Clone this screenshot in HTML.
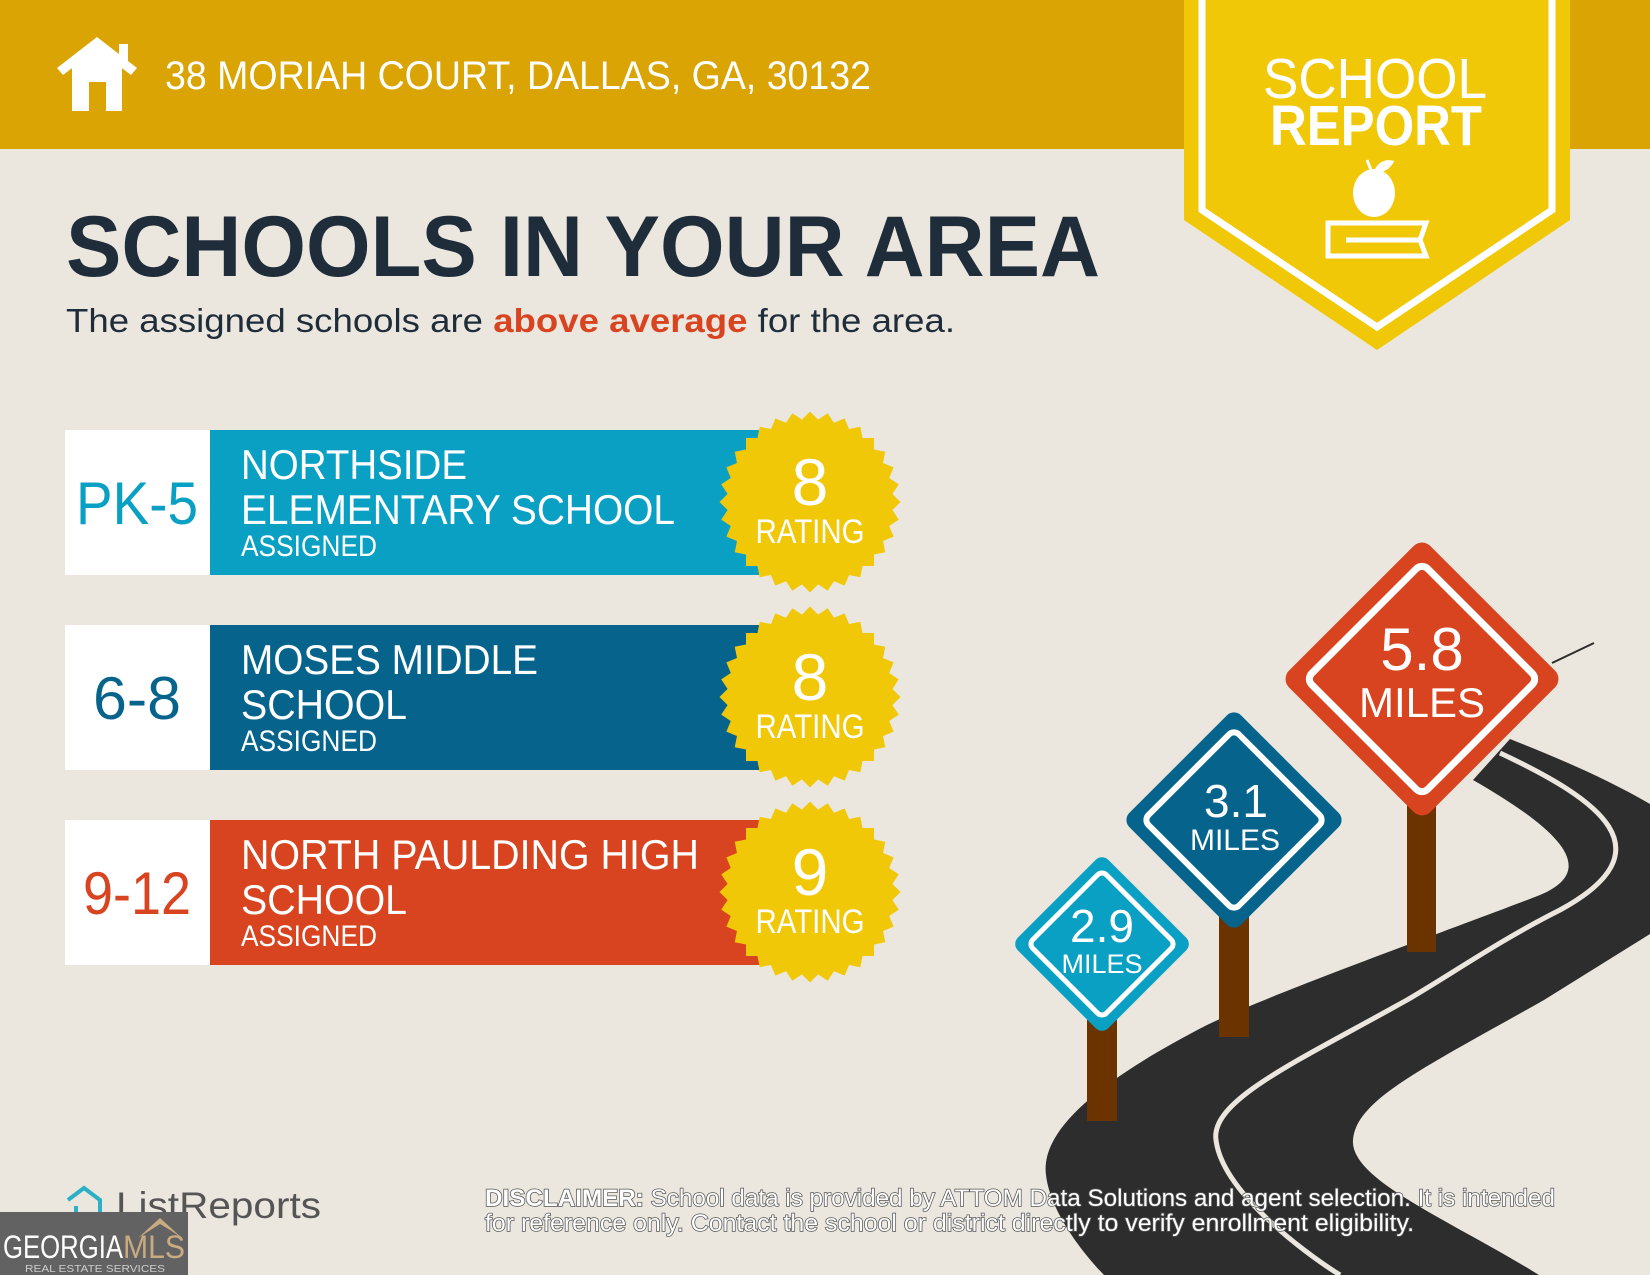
<!DOCTYPE html>
<html><head><meta charset="utf-8"><style>
html,body{margin:0;padding:0;background:#ebe7df;}
svg{display:block;}
text{font-family:"Liberation Sans",sans-serif;}
</style></head><body>
<svg width="1650" height="1275" viewBox="0 0 1650 1275" xmlns="http://www.w3.org/2000/svg">
<defs>
<g id="seal">
<rect x="-64" y="-64" width="128" height="128" transform="rotate(0)"/>
<rect x="-64" y="-64" width="128" height="128" transform="rotate(11.25)"/>
<rect x="-64" y="-64" width="128" height="128" transform="rotate(22.5)"/>
<rect x="-64" y="-64" width="128" height="128" transform="rotate(33.75)"/>
<rect x="-64" y="-64" width="128" height="128" transform="rotate(45)"/>
<rect x="-64" y="-64" width="128" height="128" transform="rotate(56.25)"/>
<rect x="-64" y="-64" width="128" height="128" transform="rotate(67.5)"/>
<rect x="-64" y="-64" width="128" height="128" transform="rotate(78.75)"/>
</g>
</defs>
<rect width="1650" height="1275" fill="#ebe7df"/>
<!-- header -->
<rect x="0" y="0" width="1650" height="149" fill="#d9a404"/>
<!-- house -->
<g fill="#fff">
<polygon points="97,37 137,68 131,75 97,49 63,75 57,68"/>
<rect x="119" y="44" width="9" height="18"/>
<path d="M72,62 L97,43 L122,62 L122,111 L106,111 L106,82 L89,82 L89,111 L72,111 Z"/>
</g>
<text x="165" y="89" font-size="40" fill="#fff" textLength="706" lengthAdjust="spacingAndGlyphs">38 MORIAH COURT, DALLAS, GA, 30132</text>
<!-- badge -->
<polygon points="1184,0 1570,0 1570,220 1377,350 1184,220" fill="#f0c808"/>
<polyline points="1202,0 1202,210 1377,327 1552,210 1552,0" fill="none" stroke="#fff" stroke-width="7"/>
<text x="1375" y="98" font-size="57" fill="#fff" text-anchor="middle" textLength="224" lengthAdjust="spacingAndGlyphs">SCHOOL</text>
<text x="1376" y="145" font-size="57" font-weight="bold" fill="#fff" text-anchor="middle" textLength="212" lengthAdjust="spacingAndGlyphs">REPORT</text>
<ellipse cx="1374" cy="193" rx="21" ry="24" fill="#fff"/>
<path d="M1371,170 L1367,160 M1376,170 Q1382,160 1392,162 Q1386,172 1376,170Z" stroke="#fff" stroke-width="3" fill="#fff"/>
<path d="M1328,223 L1426,223 L1420,240 L1426,256 L1328,256 Z" fill="none" stroke="#fff" stroke-width="5"/>
<line x1="1346" y1="240" x2="1418" y2="240" stroke="#fff" stroke-width="5"/>
<!-- title -->
<text x="66" y="276" font-size="86" font-weight="bold" fill="#1f2d3a" textLength="1034" lengthAdjust="spacingAndGlyphs">SCHOOLS IN YOUR AREA</text>
<text x="66" y="332" font-size="33" fill="#1f2d3a" textLength="889" lengthAdjust="spacingAndGlyphs">The assigned schools are <tspan fill="#d84420" font-weight="bold">above average</tspan> for the area.</text>
<!-- row 1 -->
<rect x="65" y="430" width="145" height="145" fill="#fff"/>
<rect x="210" y="430" width="560" height="145" fill="#0aa0c4"/>
<text x="137" y="524" font-size="60" fill="#0aa0c4" text-anchor="middle" textLength="122" lengthAdjust="spacingAndGlyphs">PK-5</text>
<text x="241" y="479" font-size="42" fill="#fff" textLength="226" lengthAdjust="spacingAndGlyphs">NORTHSIDE</text>
<text x="241" y="524" font-size="42" fill="#fff" textLength="434" lengthAdjust="spacingAndGlyphs">ELEMENTARY SCHOOL</text>
<text x="241" y="556" font-size="30" fill="#fff" textLength="136" lengthAdjust="spacingAndGlyphs">ASSIGNED</text>
<use href="#seal" transform="translate(810,502)" fill="#f0c808"/>
<text x="810" y="505" font-size="66" fill="#fff" text-anchor="middle">8</text>
<text x="810" y="543" font-size="34" fill="#fff" text-anchor="middle" textLength="109" lengthAdjust="spacingAndGlyphs">RATING</text>
<!-- row 2 -->
<rect x="65" y="625" width="145" height="145" fill="#fff"/>
<rect x="210" y="625" width="560" height="145" fill="#05638c"/>
<text x="137" y="719" font-size="60" fill="#05638c" text-anchor="middle" textLength="88" lengthAdjust="spacingAndGlyphs">6-8</text>
<text x="241" y="674" font-size="42" fill="#fff" textLength="297" lengthAdjust="spacingAndGlyphs">MOSES MIDDLE</text>
<text x="241" y="719" font-size="42" fill="#fff" textLength="166" lengthAdjust="spacingAndGlyphs">SCHOOL</text>
<text x="241" y="751" font-size="30" fill="#fff" textLength="136" lengthAdjust="spacingAndGlyphs">ASSIGNED</text>
<use href="#seal" transform="translate(810,697)" fill="#f0c808"/>
<text x="810" y="700" font-size="66" fill="#fff" text-anchor="middle">8</text>
<text x="810" y="738" font-size="34" fill="#fff" text-anchor="middle" textLength="109" lengthAdjust="spacingAndGlyphs">RATING</text>
<!-- row 3 -->
<rect x="65" y="820" width="145" height="145" fill="#fff"/>
<rect x="210" y="820" width="560" height="145" fill="#d84420"/>
<text x="137" y="914" font-size="60" fill="#d84420" text-anchor="middle" textLength="108" lengthAdjust="spacingAndGlyphs">9-12</text>
<text x="241" y="869" font-size="42" fill="#fff" textLength="458" lengthAdjust="spacingAndGlyphs">NORTH PAULDING HIGH</text>
<text x="241" y="914" font-size="42" fill="#fff" textLength="166" lengthAdjust="spacingAndGlyphs">SCHOOL</text>
<text x="241" y="946" font-size="30" fill="#fff" textLength="136" lengthAdjust="spacingAndGlyphs">ASSIGNED</text>
<use href="#seal" transform="translate(810,892)" fill="#f0c808"/>
<text x="810" y="895" font-size="66" fill="#fff" text-anchor="middle">9</text>
<text x="810" y="933" font-size="34" fill="#fff" text-anchor="middle" textLength="109" lengthAdjust="spacingAndGlyphs">RATING</text>
<!-- road -->
<path d="M1473,780 C1560,830 1600,870 1540,895 C1450,930 1280,990 1207,1025 C1100,1080 1040,1130 1046,1175 C1050,1210 1080,1250 1104,1275 L1539,1275 C1450,1220 1350,1180 1353,1140 C1356,1100 1420,1070 1544,1000 L1650,934 L1650,804 C1600,775 1550,755 1510,739 Z" fill="#2d2d2d"/>
<path d="M1500,753 C1600,800 1670,850 1560,910 C1500,940 1450,975 1407,1000 C1300,1060 1210,1100 1216,1140 C1222,1190 1300,1250 1340,1275" fill="none" stroke="#ebe7df" stroke-width="5"/>
<line x1="1552" y1="663" x2="1594" y2="643" stroke="#2d2d2d" stroke-width="2"/>
<!-- posts -->
<rect x="1407" y="800" width="29" height="152" fill="#6b3300"/>
<rect x="1219" y="915" width="30" height="122" fill="#6b3300"/>
<rect x="1087" y="1020" width="30" height="101" fill="#6b3300"/>
<!-- signs -->
<g transform="translate(1422,679) rotate(45)">
<rect x="-100" y="-100" width="200" height="200" rx="12" fill="#d84420"/>
<rect x="-82" y="-82" width="164" height="164" rx="8" fill="none" stroke="#fff" stroke-width="7"/>
</g>
<text x="1422" y="670" font-size="60" fill="#fff" text-anchor="middle">5.8</text>
<text x="1422" y="717" font-size="42" fill="#fff" text-anchor="middle">MILES</text>
<g transform="translate(1234,820) rotate(45)">
<rect x="-79" y="-79" width="158" height="158" rx="10" fill="#05638c"/>
<rect x="-64" y="-64" width="128" height="128" rx="7" fill="none" stroke="#fff" stroke-width="6"/>
</g>
<text x="1236" y="817" font-size="46" fill="#fff" text-anchor="middle">3.1</text>
<text x="1235" y="850" font-size="30" fill="#fff" text-anchor="middle">MILES</text>
<g transform="translate(1102,944) rotate(45)">
<rect x="-64" y="-64" width="128" height="128" rx="9" fill="#0aa0c4"/>
<rect x="-52" y="-52" width="104" height="104" rx="6" fill="none" stroke="#fff" stroke-width="5"/>
</g>
<text x="1102" y="942" font-size="46" fill="#fff" text-anchor="middle">2.9</text>
<text x="1102" y="973" font-size="27" fill="#fff" text-anchor="middle">MILES</text>
<!-- footer -->
<path d="M68,1200 L84,1188 L100,1200 L100,1218 L76,1218 L76,1206" fill="none" stroke="#2bb0c8" stroke-width="4"/>
<text x="116" y="1218" font-size="37" fill="#555" textLength="205" lengthAdjust="spacingAndGlyphs">ListReports</text>
<rect x="0" y="1212" width="188" height="63" fill="#636262"/>
<path d="M138,1238 L160,1218 L182,1238 L170,1230 L160,1224 Z" fill="#c8ab80"/>
<text x="3" y="1258" font-size="32" fill="#fff" textLength="120" lengthAdjust="spacingAndGlyphs">GEORGIA</text>
<text x="123" y="1258" font-size="32" fill="#c8ab80" textLength="62" lengthAdjust="spacingAndGlyphs">MLS</text>
<text x="25" y="1272" font-size="10" fill="#ccc" textLength="140" lengthAdjust="spacingAndGlyphs">REAL ESTATE SERVICES</text>
<g stroke="#555" stroke-width="1.5" paint-order="stroke">
<text x="485" y="1206" font-size="24" fill="#fff" textLength="1070" lengthAdjust="spacingAndGlyphs"><tspan font-weight="bold">DISCLAIMER:</tspan> School data is provided by ATTOM Data Solutions and agent selection. It is intended</text>
<text x="485" y="1231" font-size="24" fill="#fff" textLength="929" lengthAdjust="spacingAndGlyphs">for reference only. Contact the school or district directly to verify enrollment eligibility.</text>
</g>
</svg>
</body></html>
